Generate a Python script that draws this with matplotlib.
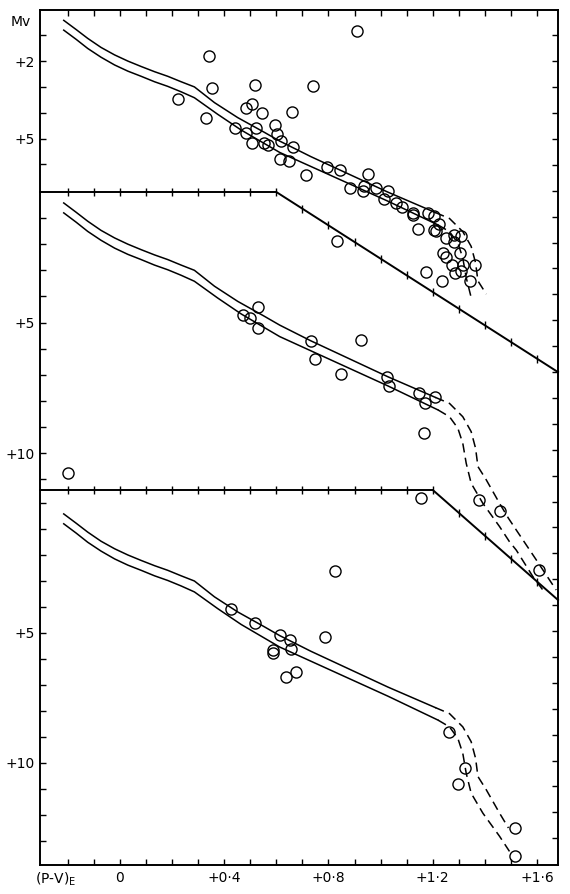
import matplotlib
import matplotlib.pyplot as plt
import numpy as np

matplotlib.use('Agg')

FIG_W: int = 570
FIG_H: int = 894
DPI: int = 100
LEFT_PX: float = 40
RIGHT_PX: float = 558

X_LIM: tuple[float, float] = (-0.306, 1.68)
X_TICKS: list[float] = [round(-0.2 + 0.1 * i, 1) for i in range(19)]
X_LABEL_TICKS: list[float] = [0.0, 0.4, 0.8, 1.2, 1.6]
X_LABELS: list[str] = ['0', '+0·4', '+0·8', '+1·2', '+1·6']

# main-sequence band (upper and lower edge), solid part
MS_UPPER_X: list[float] = [-0.215, -0.167, -0.123, -0.072, -0.02, 0.031, 0.082, 0.133, 0.184, 0.235, 0.286,
                           0.363, 0.452, 0.554, 0.613, 0.732, 1.028, 1.21]
MS_UPPER_Y: list[float] = [0.42, 0.78, 1.12, 1.47, 1.76, 2.0, 2.21, 2.41, 2.59, 2.80, 3.0,
                           3.61, 4.19, 4.76, 5.1, 5.7, 7.08, 7.87]
MS_LOWER_X: list[float] = [-0.215, -0.167, -0.123, -0.072, -0.02, 0.031, 0.082, 0.133, 0.184, 0.235, 0.286,
                           0.375, 0.465, 0.613, 1.028, 1.22]
MS_LOWER_Y: list[float] = [0.80, 1.16, 1.51, 1.85, 2.15, 2.39, 2.59, 2.80, 2.98, 3.19, 3.42,
                           4.06, 4.67, 5.54, 7.43, 8.35]

# dashed continuation (M dwarfs)
DASH_UPPER_X: list[float] = [1.21, 1.264, 1.315, 1.347, 1.364, 1.373, 1.405, 1.456, 1.49, 1.52, 1.597, 1.673]
DASH_UPPER_Y: list[float] = [7.87, 8.10, 8.61, 9.18, 9.82, 10.52, 11.03, 11.93, 12.5, 12.95, 14.10, 15.25]
DASH_LOWER_X: list[float] = [1.22, 1.264, 1.296, 1.315, 1.328, 1.347, 1.392, 1.456, 1.494, 1.52, 1.584, 1.622]
DASH_LOWER_Y: list[float] = [8.35, 8.61, 9.05, 9.63, 10.39, 11.16, 11.93, 12.82, 13.4, 13.72, 14.74, 15.25]

# stars, top panel
TOP_PV: list[float] = [0.342, 0.354, 0.223, 0.520, 0.332, 0.483, 0.506, 0.545, 0.442, 0.484, 0.522, 0.594,
                       0.602, 0.617, 0.506, 0.554, 0.567, 0.909, 0.741, 0.662, 0.664, 0.613, 0.647, 0.714,
                       0.796, 0.844, 0.951, 0.884, 0.935, 0.933, 0.983, 1.030, 1.013, 1.057, 1.083, 1.123,
                       1.125, 1.183, 1.206, 1.143, 1.222, 1.204, 1.211, 1.249, 1.280, 1.309, 1.282, 1.303,
                       1.239, 1.250, 1.275, 1.317, 1.360, 1.284, 1.307, 1.174, 1.342, 1.236]
TOP_MV: list[float] = [1.79, 3.03, 3.48, 2.91, 4.19, 3.80, 3.67, 4.02, 4.58, 4.78, 4.60, 4.47,
                       4.84, 5.10, 5.19, 5.17, 5.27, 0.85, 2.97, 3.99, 5.32, 5.81, 5.86, 6.43,
                       6.10, 6.23, 6.38, 6.91, 6.86, 7.05, 6.93, 7.02, 7.33, 7.49, 7.66, 7.90,
                       7.97, 7.90, 8.02, 8.52, 8.30, 8.53, 8.59, 8.84, 8.74, 8.77, 9.00, 9.42,
                       9.45, 9.61, 9.89, 9.91, 9.92, 10.22, 10.13, 10.19, 10.52, 10.53]

# stars, middle panel
MID_PV: list[float] = [0.472, 0.501, 0.528, 0.530, -0.198, 0.833, 0.732, 0.926, 0.750, 0.847, 1.026,
                       1.031, 1.147, 1.210, 1.169, 1.166, 1.376, 1.459, 1.609]
MID_MV: list[float] = [4.71, 4.84, 4.39, 5.22, 10.78, 1.87, 5.70, 5.67, 6.40, 6.97, 7.08,
                       7.43, 7.69, 7.84, 8.07, 9.25, 11.80, 12.21, 14.48]

# stars, bottom panel
BOT_PV: list[float] = [0.428, 0.518, 0.613, 0.654, 0.656, 0.586, 0.586, 0.637, 0.676, 0.785, 0.826,
                       1.153, 1.264, 1.325, 1.296, 1.515, 1.517]
BOT_MV: list[float] = [4.07, 4.62, 5.09, 5.28, 5.60, 5.67, 5.78, 6.68, 6.49, 5.14, 2.62,
                       -0.21, 8.82, 10.20, 10.81, 12.49, 13.56]

LW_FRAME: float = 1.4
LW_CURVE: float = 1.1


def add_panel(fig, top_px: float, bottom_px: float, y_top: float, y_bottom: float):
    ax = fig.add_axes([LEFT_PX / FIG_W, 1 - bottom_px / FIG_H,
                       (RIGHT_PX - LEFT_PX) / FIG_W, (bottom_px - top_px) / FIG_H])
    ax.set_xlim(*X_LIM)
    ax.set_ylim(y_bottom, y_top)
    ax.set_facecolor('none')
    for s in ('top', 'bottom', 'left', 'right'):
        ax.spines[s].set_visible(False)
    ax.spines['left'].set_linewidth(LW_FRAME)
    ax.spines['top'].set_linewidth(LW_FRAME)
    ax.spines['bottom'].set_linewidth(LW_FRAME)
    ax.tick_params(direction='in', length=4.5, width=1.0, labelsize=10, pad=4)
    return ax


def draw_band(ax, n_up: int, n_low: int) -> None:
    ax.plot(MS_UPPER_X, MS_UPPER_Y, color='black', lw=LW_CURVE, zorder=2)
    ax.plot(MS_LOWER_X, MS_LOWER_Y, color='black', lw=LW_CURVE, zorder=2)
    ax.plot(DASH_UPPER_X[:n_up], DASH_UPPER_Y[:n_up], color='black', lw=LW_CURVE,
            linestyle=(0, (6, 3.5)), zorder=2)
    ax.plot(DASH_LOWER_X[:n_low], DASH_LOWER_Y[:n_low], color='black', lw=LW_CURVE,
            linestyle=(0, (6, 3.5)), zorder=2)


def draw_stars(ax, pv: list[float], mv: list[float]) -> None:
    ax.plot(pv, mv, linestyle='none', marker='o', ms=8, mfc='none', mec='black', mew=1.0,
            zorder=3, clip_on=False)


def draw_border(ax, xs: list[float], ys: list[float]) -> None:
    ax.plot(xs, ys, color='black', lw=LW_FRAME, clip_on=False, solid_joinstyle='miter', zorder=4)
    ty = np.interp(X_TICKS, xs, ys)
    ax.plot(X_TICKS, ty, linestyle='none', marker='|', ms=6, mew=1.0, color='black',
            clip_on=False, zorder=4)


def left_ticks(ax, ticks: list[int], labels: dict[int, str], y_bottom: float) -> None:
    ax.spines['left'].set_visible(True)
    ax.spines['left'].set_bounds(ax.get_ylim()[1], y_bottom)
    ax.set_yticks(ticks)
    ax.set_yticklabels([labels.get(t, '') for t in ticks])


fig = plt.figure(figsize=(FIG_W / DPI, FIG_H / DPI), dpi=DPI)

# top panel
ax1 = add_panel(fig, 9.5, 372, 0.0, (372 - 9.5) / 25.8)
ax1.spines['top'].set_visible(True)
ax1.xaxis.set_ticks_position('top')
ax1.set_xticks(X_TICKS)
ax1.set_xticklabels([])
left_ticks(ax1, [1, 2, 3, 4, 5, 6], {2: '+2', 5: '+5'}, (192 - 9.5) / 25.8)
draw_band(ax1, 7, 6)
draw_stars(ax1, TOP_PV, TOP_MV)

# middle panel
ax2 = add_panel(fig, 192, 600, 0.0, 408 / 26.1)
ax2.set_xticks([])
left_ticks(ax2, list(range(1, 12)), {5: '+5', 10: '+10'}, 298 / 26.1)
draw_border(ax2, [X_LIM[0], 0.6, X_LIM[1]], [0.0, 0.0, 6.9])
draw_band(ax2, len(DASH_UPPER_X), len(DASH_LOWER_X))
draw_stars(ax2, MID_PV, MID_MV)

# bottom panel
ax3 = add_panel(fig, 490, 865, -0.5, -0.5 + 375 / 26)
ax3.spines['bottom'].set_visible(True)
ax3.xaxis.set_ticks_position('bottom')
ax3.set_xticks(X_TICKS)
ax3.set_xticklabels([X_LABELS[X_LABEL_TICKS.index(t)] if t in X_LABEL_TICKS else '' for t in X_TICKS])
left_ticks(ax3, list(range(0, 14)), {5: '+5', 10: '+10'}, -0.5 + 375 / 26)
draw_border(ax3, [X_LIM[0], 1.2, X_LIM[1]], [-0.5, -0.5, 3.73])
draw_band(ax3, 9, 9)
draw_stars(ax3, BOT_PV, BOT_MV)

# common right-hand frame
axr = add_panel(fig, 9.5, 865, 0.0, (865 - 9.5) / 25.9)
axr.spines['right'].set_visible(True)
axr.spines['right'].set_linewidth(LW_FRAME)
axr.set_xticks([])
axr.yaxis.set_ticks_position('right')
axr.set_yticks(list(range(1, 33)))
axr.set_yticklabels([])

fig.text(11 / FIG_W, 1 - 22 / FIG_H, 'Mv', ha='left', va='center', fontsize=10)
fig.text(35 / FIG_W, 1 - 879 / FIG_H, r'(P-V)$_{\mathrm{E}}$', ha='left', va='center', fontsize=10)

fig.savefig('out.png', dpi=DPI)
